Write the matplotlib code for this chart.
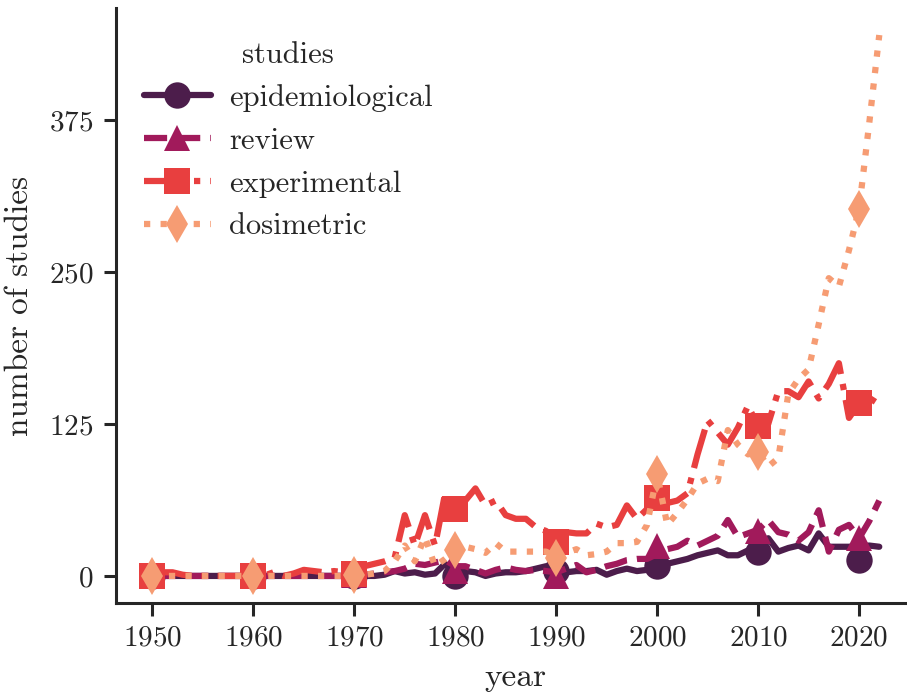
import numpy as np
import matplotlib
matplotlib.use("Agg")
import matplotlib.pyplot as plt
from matplotlib.lines import Line2D
import seaborn as sns

# yearly counts
years = np.arange(1950, 2023)

epidemiological = [0] * 20 + [
    0, 0, 0, 1, 4, 2, 3, 1, 2, 10,          # 1970s
    2, 4, 3, 0, 2, 3, 3, 4, 6, 8,           # 1980s
    6, 3, 4, 4, 5, 1, 4, 6, 4, 5,           # 1990s
    6, 10, 12, 14, 17, 19, 21, 17, 17, 21,  # 2000s
    20, 31, 20, 23, 25, 21, 35, 24, 24, 24,  # 2010s
    24, 25, 24]

review = [0] * 20 + [
    1, 1, 2, 3, 4, 6, 10, 9, 11, 13,
    8, 8, 5, 2, 5, 7, 5, 4, 5, 4,
    3, 6, 9, 3, 5, 8, 10, 13, 14, 14,
    18, 22, 24, 29, 25, 29, 33, 46, 32, 35,
    38, 46, 36, 34, 29, 36, 54, 20, 38, 42,
    31, 45, 62]

experimental = [0, 3, 3, 1, 0, 0, 0, 0, 0, 0,
                0, 0, 3, 0, 2, 5, 4, 3, 4, 3,
                3, 8, 10, 12, 15, 50, 25, 50, 25, 68,
                55, 62, 72, 58, 62, 50, 47, 47, 40, 37,
                28, 36, 35, 35, 43, 40, 42, 58, 47, 55,
                64, 60, 62, 68, 100, 128, 118, 108, 122, 140,
                123, 125, 152, 152, 147, 160, 146, 158, 175, 130,
                142, 140, 153]

dosimetric = [0] * 20 + [
    1, 1, 2, 4, 12, 25, 12, 32, 8, 14,
    21, 24, 22, 19, 27, 20, 20, 20, 20, 20,
    15, 19, 22, 17, 18, 20, 27, 27, 28, 42,
    84, 42, 52, 63, 76, 80, 78, 120, 108, 100,
    102, 90, 97, 150, 162, 170, 207, 245, 238, 268,
    302, 372, 445]

# marker values at each decade
decades = np.arange(1950, 2021, 10)
epi_mk = [0, 0, 0, 0, 4, 8, 20, 13]
rev_mk = [0, 0, 1, 4, 0, 25, 37, 31]
exp_mk = [0, 0, 2, 55, 28, 64, 123, 142]
dos_mk = [0, 0, 1, 21, 15, 84, 102, 302]

labels = ["epidemiological", "review", "experimental", "dosimetric"]
series = [epidemiological, review, experimental, dosimetric]
mk_vals = [epi_mk, rev_mk, exp_mk, dos_mk]
styles = ["-", "--", "-.", ":"]
markers = ["o", "^", "s", "d"]

sns.set_style("ticks")
plt.rcParams["font.family"] = ["cmr10", "DejaVu Serif"]
plt.rcParams["axes.formatter.use_mathtext"] = True
plt.rcParams["mathtext.fontset"] = "cm"

colors = sns.color_palette("rocket", 4)

fig = plt.figure(figsize=(9.07, 6.93), dpi=100)
# axes runs a little past the right edge, like the cropped original
ax = fig.add_axes([0.1279, 0.1299, 0.8816, 0.8586])

handles = []
for vals, mk, ls, m, c, lab in zip(series, mk_vals, styles, markers, colors, labels):
    ax.plot(years, vals, linestyle=ls, color=c, lw=4.5)
    ax.plot(decades, mk, linestyle="none", marker=m, color=c, ms=19, mew=0)
    handles.append(Line2D([], [], linestyle=ls, color=c, lw=4.5, marker=m, ms=19, mew=0, label=lab))

ax.set_xticks(decades)
ax.set_yticks([0, 125, 250, 375])
ax.set_xlabel("year", fontsize=24, labelpad=8)
ax.set_ylabel("number of studies", fontsize=24, labelpad=11)
ax.tick_params(labelsize=21, width=2.2, length=9, pad=7)
for s in ax.spines.values():
    s.set_linewidth(2.2)
sns.despine(ax=ax)

ax.legend(handles=handles, title="studies", loc="upper left", frameon=False,
          fontsize=22, title_fontsize=22, handlelength=2.2, handletextpad=0.6,
          bbox_to_anchor=(0.0, 0.99))

fig.savefig("out.png", dpi=100)
